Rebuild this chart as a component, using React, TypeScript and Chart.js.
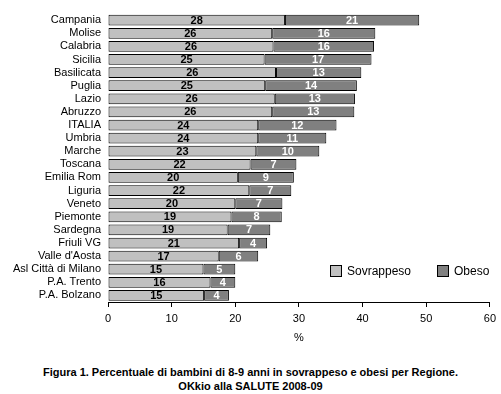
import React, { useEffect, useRef } from "react";
import { Chart, registerables } from "chart.js";

Chart.register(...registerables);

const regions = [
  "Campania", "Molise", "Calabria", "Sicilia", "Basilicata", "Puglia", "Lazio", "Abruzzo",
  "ITALIA", "Umbria", "Marche", "Toscana", "Emilia Rom", "Liguria", "Veneto", "Piemonte",
  "Sardegna", "Friuli VG", "Valle d'Aosta", "Asl Città di Milano", "P.A. Trento", "P.A. Bolzano",
];
const sovrappeso = [
  27.8, 25.8, 26.0, 24.6, 26.4, 24.7, 26.2, 25.8, 23.6, 23.6, 23.3, 22.4, 20.4, 22.2, 20.0, 19.4,
  18.8, 20.6, 17.4, 15.0, 16.1, 15.1,
];
const obeso = [
  21.1, 16.2, 15.8, 16.8, 13.4, 14.4, 12.6, 12.9, 12.3, 10.7, 9.9, 7.2, 8.8, 6.6, 7.4, 7.9,
  6.7, 4.4, 6.2, 5.0, 3.9, 3.9,
];
const xTicksMax = 60;
const xTickStep = 10;

const FONT = "'Liberation Sans', Arial, sans-serif";

const labelPlugin = {
  id: "barLabels",
  afterDatasetsDraw(chart: any) {
    const ctx = chart.ctx;
    ctx.save();
    ctx.font = `bold 11px ${FONT}`;
    ctx.textAlign = "center";
    ctx.textBaseline = "middle";
    chart.data.datasets.forEach((ds: any, di: number) => {
      const meta = chart.getDatasetMeta(di);
      ctx.fillStyle = di === 0 ? "#000" : "#fff";
      meta.data.forEach((el: any, i: number) => {
        const v = ds.data[i];
        const cx = (el.x + el.base) / 2;
        ctx.fillText(String(Math.round(v)), cx, el.y + 0.5);
      });
    });
    ctx.restore();
  },
};

export default function App() {
  const ref = useRef<HTMLCanvasElement>(null);
  useEffect(() => {
    if (!ref.current) return;
    const chart = new Chart(ref.current, {
      type: "bar",
      data: {
        labels: regions,
        datasets: [
          {
            label: "Sovrappeso",
            data: sovrappeso,
            backgroundColor: "#c0c0c0",
            borderColor: "#000",
            borderWidth: 1,
            borderSkipped: false,
            barPercentage: 0.82,
            categoryPercentage: 1,
          },
          {
            label: "Obeso",
            data: obeso,
            backgroundColor: "#808080",
            borderColor: "#000",
            borderWidth: 1,
            borderSkipped: false,
            barPercentage: 0.82,
            categoryPercentage: 1,
          },
        ],
      },
      options: {
        indexAxis: "y",
        animation: false,
        responsive: false,
        maintainAspectRatio: false,
        layout: { padding: { top: 10, right: 11, left: 0, bottom: 0 } },
        plugins: { legend: { display: false }, tooltip: { enabled: false } },
        scales: {
          x: {
            stacked: true,
            min: 0,
            max: xTicksMax,
            ticks: { stepSize: xTickStep, color: "#000", font: { family: FONT, size: 11 }, padding: 5 },
            grid: { display: true, drawOnChartArea: false, drawTicks: true, tickLength: 5, color: "#000" },
            border: { display: true, color: "#000", width: 1 },
            title: { display: true, text: "%", color: "#000", font: { family: FONT, size: 11 }, padding: { top: 0, bottom: 0 } },
            afterFit: (s: any) => { s.height = 43; },
          },
          y: {
            stacked: true,
            grid: { display: false, drawTicks: false },
            border: { display: false },
            ticks: { color: "#000", font: { family: FONT, size: 11 }, padding: 7, autoSkip: false },
            afterFit: (s: any) => { s.width = 108; },
          },
        },
      },
      plugins: [labelPlugin],
    } as any);
    return () => chart.destroy();
  }, []);

  const box = (bg: string): React.CSSProperties => ({
    display: "inline-block", width: 10, height: 10, background: bg, border: "1px solid #000",
    verticalAlign: "middle", marginRight: 5,
  });

  return (
    <div style={{ position: "fixed", left: 0, top: 0, width: 501, height: 394, background: "#fff", overflow: "hidden" }}>
      <canvas ref={ref} width={501} height={345} style={{ position: "absolute", left: 0, top: 0, width: 501, height: 345 }} />
      <div style={{ position: "absolute", left: 330, top: 263, font: `12px ${FONT}`, color: "#000", whiteSpace: "nowrap", lineHeight: "14px" }}>
        <span style={box("#c0c0c0")} />
        <span style={{ verticalAlign: "middle" }}>Sovrappeso</span>
      </div>
      <div style={{ position: "absolute", left: 437, top: 263, font: `12px ${FONT}`, color: "#000", whiteSpace: "nowrap", lineHeight: "14px" }}>
        <span style={box("#808080")} />
        <span style={{ verticalAlign: "middle" }}>Obeso</span>
      </div>
      <div style={{ position: "absolute", left: 0, top: 365, width: 501, textAlign: "center", font: `bold 11px ${FONT}`, lineHeight: "14px", color: "#000" }}>
        <div>Figura 1. Percentuale di bambini di 8-9 anni in sovrappeso e obesi per Regione.</div>
        <div>OKkio alla SALUTE 2008-09</div>
      </div>
    </div>
  );
}
